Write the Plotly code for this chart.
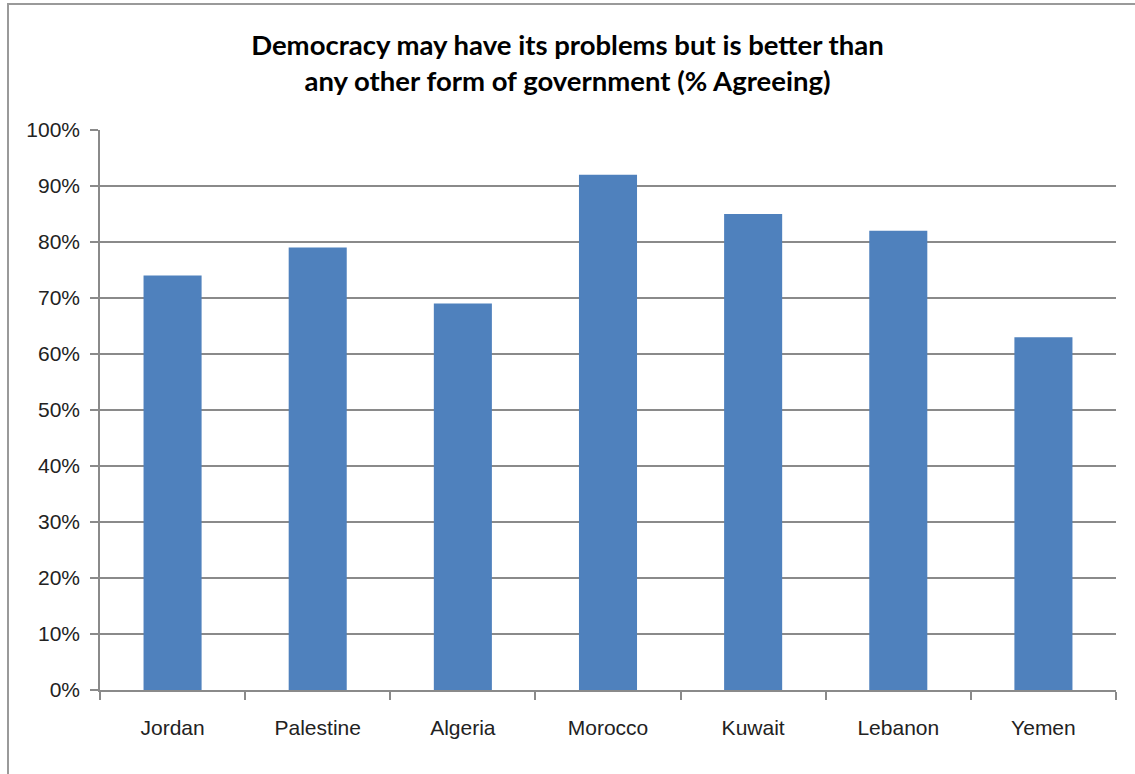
import plotly.graph_objects as go

countries = ["Jordan", "Palestine", "Algeria", "Morocco", "Kuwait", "Lebanon", "Yemen"]
agree_pct = [74, 79, 69, 92, 85, 82, 63]
y_ticks = [0, 10, 20, 30, 40, 50, 60, 70, 80, 90, 100]
y_tick_labels = [f"{v}%" for v in y_ticks]
title_text = "Democracy may have its problems but is better than<br>any other form of government (% Agreeing)"

W, H = 1135, 774
L, R, T, B = 100, 19, 130, 84
pw, ph = W - L - R, H - T - B

fig = go.Figure(
    go.Bar(
        x=countries,
        y=agree_pct,
        marker=dict(color="#4F81BD", line=dict(width=0)),
    )
)

fig.update_layout(
    width=W,
    height=H,
    margin=dict(l=L, r=R, t=T, b=B),
    paper_bgcolor="white",
    plot_bgcolor="white",
    bargap=0.6,
    showlegend=False,
    title=dict(
        text=title_text,
        font=dict(family="Lato", size=27.5, color="black", weight="bold"),
        x=0.5,
        xref="container",
        xanchor="center",
        y=1 - 55 / H,
        yref="container",
        yanchor="middle",
    ),
    font=dict(family="Liberation Sans", size=21, color="#222222"),
)

fig.update_xaxes(
    type="category",
    showline=True,
    linecolor="#8a8a8a",
    linewidth=1.5,
    ticks="outside",
    tickson="boundaries",
    ticklen=8,
    tickcolor="#8a8a8a",
    tickwidth=1.5,
    showgrid=False,
    ticklabelstandoff=18,
)

fig.update_yaxes(
    range=[0, 100],
    tickvals=y_ticks,
    ticktext=y_tick_labels,
    showline=True,
    linecolor="#8a8a8a",
    linewidth=1.5,
    ticks="outside",
    ticklen=8,
    tickcolor="#8a8a8a",
    tickwidth=1.5,
    showgrid=True,
    gridcolor="#8a8a8a",
    gridwidth=1.5,
    zeroline=False,
    ticklabelstandoff=6,
)

# outer chart border (left and top visible, extends beyond right/bottom)
fig.add_shape(
    type="rect",
    xref="paper",
    yref="paper",
    x0=(8 - L) / pw,
    x1=(W + 20 - L) / pw,
    y0=-(H + 20 - (T + ph)) / ph,
    y1=(T + ph - 4) / ph,
    line=dict(color="#9a9a9a", width=2),
    fillcolor="rgba(0,0,0,0)",
    layer="below",
)

fig.write_html("out.html")
